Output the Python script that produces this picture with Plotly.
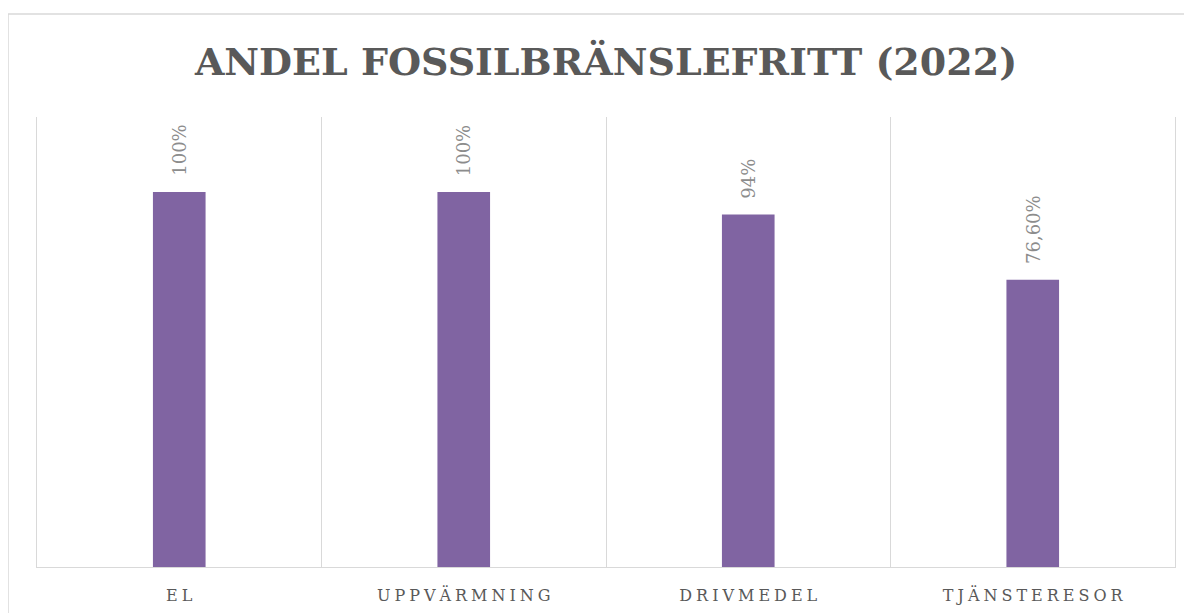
import plotly.graph_objects as go

categories = ["EL", "UPPVÄRMNING", "DRIVMEDEL", "TJÄNSTERESOR"]
values = [1.00, 1.00, 0.94, 0.766]
value_labels = ["100%", "100%", "94%", "76,60%"]
title_text = "ANDEL FOSSILBRÄNSLEFRITT (2022)"

def spaced(s, sep):
    return sep.join(list(s))

tick_text = [spaced(c, "\u2005") for c in categories]

# page body has an 8px margin, so the figure is drawn from (8, 8)
OFF = 8
W, H = 1192 - OFF, 613 - OFF
L, T = 37 - OFF, 117 - OFF
R, B = 1192 - 1175, 613 - 567
pw, ph = W - L - R, H - T - B

fig = go.Figure()
fig.add_trace(go.Bar(
    x=categories, y=values,
    marker=dict(color="#8064A2", line=dict(width=0)),
    width=0.185,
    hoverinfo="skip",
))

for c, v, lab in zip(categories, values, value_labels):
    fig.add_annotation(
        x=c, y=v, text=lab, textangle=-90, showarrow=False,
        xanchor="center", yanchor="bottom", yshift=14,
        font=dict(family="DejaVu Serif", size=18, color="#8c8c8c"),
    )

fig.update_layout(
    width=W, height=H,
    margin=dict(l=L, r=R, t=T, b=B, autoexpand=False),
    paper_bgcolor="white", plot_bgcolor="white",
    showlegend=False,
    title=dict(
        text=title_text,
        x=0.5, xref="paper", xanchor="center",
        y=1 - (62 - OFF) / H, yref="container", yanchor="middle",
        font=dict(family="DejaVu Serif", size=38, color="#595959", weight="bold"),
        automargin=False,
    ),
    xaxis=dict(
        type="category", tickmode="array", tickvals=categories, ticktext=tick_text,
        tickson="boundaries", ticks="", showgrid=True, gridcolor="#d9d9d9", gridwidth=1,
        showline=True, linecolor="#d9d9d9", linewidth=1,
        tickfont=dict(family="DejaVu Serif", size=16, color="#595959"),
        ticklabelstandoff=14, automargin=False,
        range=[-0.5, 3.5],
    ),
    yaxis=dict(
        range=[0, 1.2], showgrid=False, showticklabels=False, ticks="",
        showline=True, mirror=True, linecolor="#d9d9d9", linewidth=1, zeroline=False,
        automargin=False,
    ),
    shapes=[dict(
        type="rect", xref="paper", yref="paper",
        x0=(8 - 37) / pw, x1=(1205 - 37) / pw,
        y0=-(630 - 567) / ph, y1=1 + (117 - 14) / ph,
        line=dict(color="#d9d9d9", width=1.5), fillcolor="rgba(0,0,0,0)",
        layer="below",
    )],
)

fig.write_html("out.html")
